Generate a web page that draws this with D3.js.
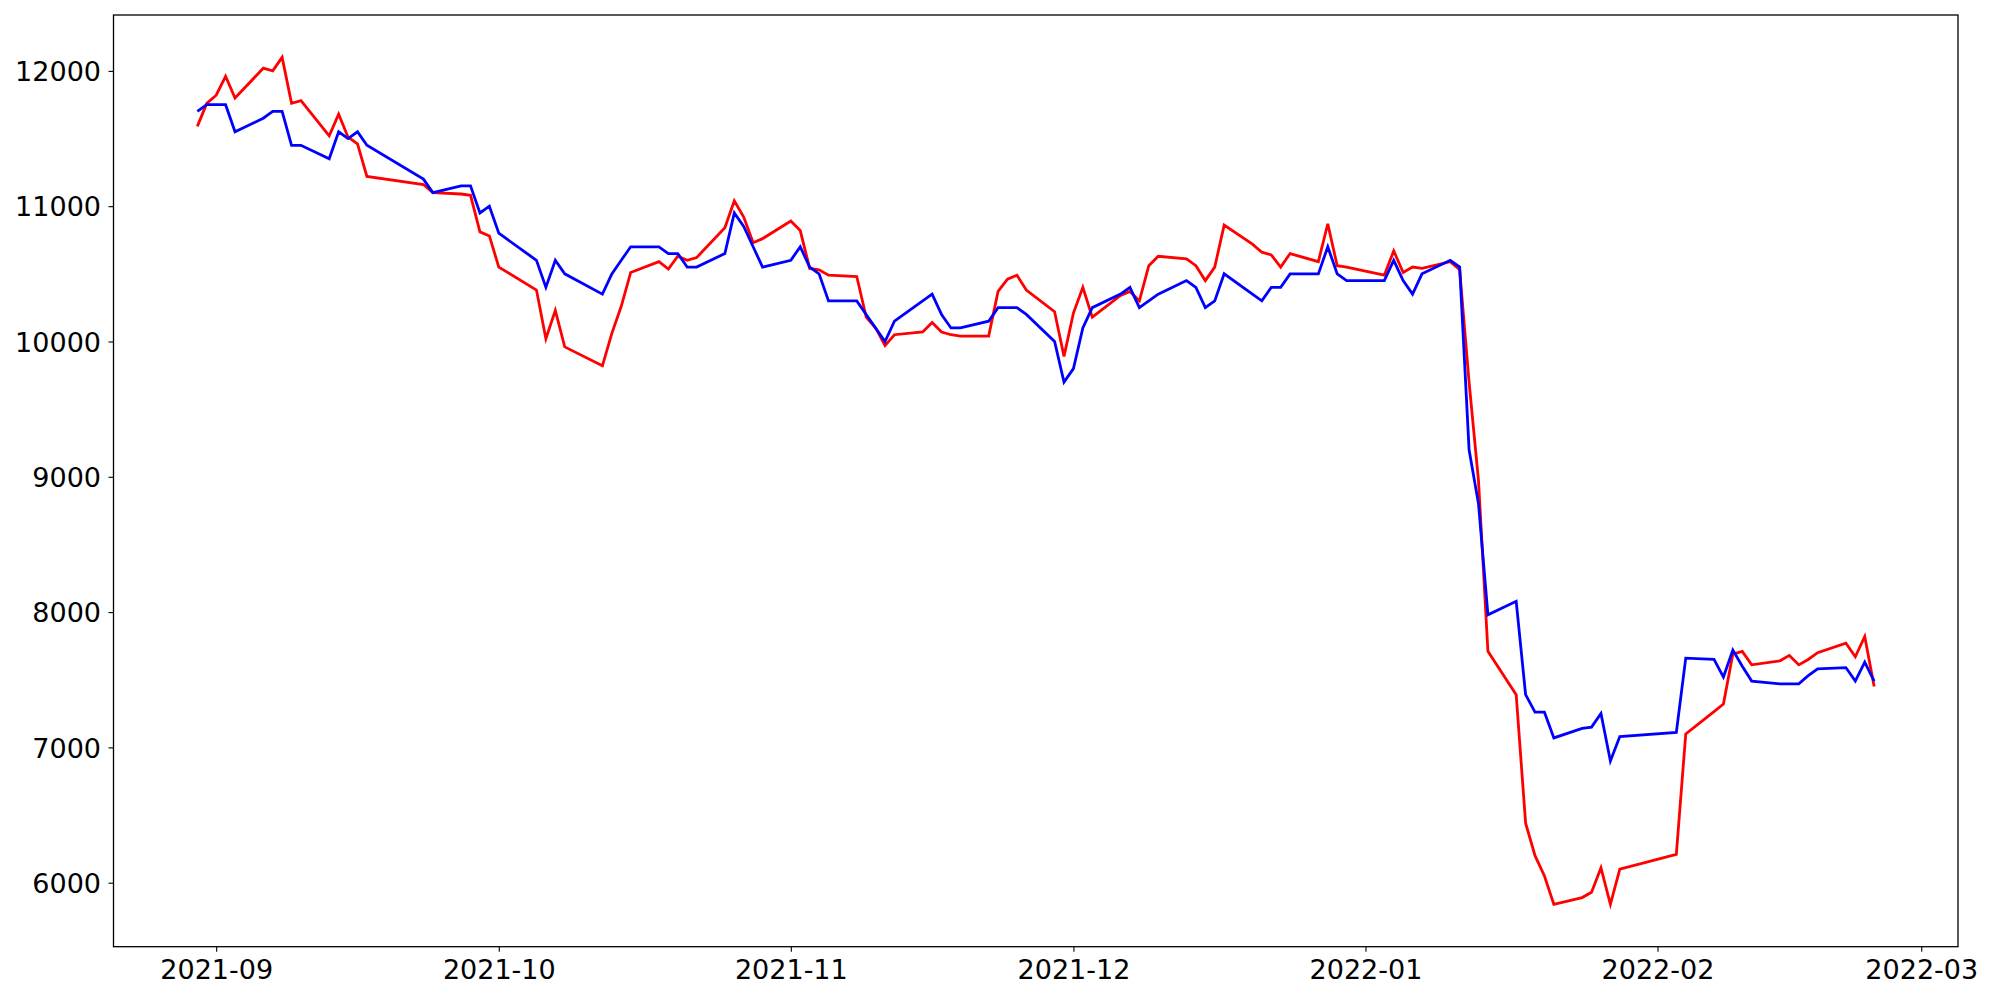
<!DOCTYPE html>
<html>
<head>
<meta charset="utf-8">
<script src="https://cdn.jsdelivr.net/npm/d3@7"></script>
<style>
  html, body { margin: 0; padding: 0; background: #ffffff; }
  svg { display: block; }
  text { font-family: "DejaVu Sans", sans-serif; }
</style>
</head>
<body>
<svg id="chart" width="2000" height="1000"></svg>
<script>
// Trading days (KRX)
const dates = [
  "2021-08-30","2021-08-31","2021-09-01","2021-09-02","2021-09-03",
  "2021-09-06","2021-09-07","2021-09-08","2021-09-09","2021-09-10",
  "2021-09-13","2021-09-14","2021-09-15","2021-09-16","2021-09-17",
  "2021-09-23","2021-09-24","2021-09-27","2021-09-28","2021-09-29","2021-09-30",
  "2021-10-01","2021-10-05","2021-10-06","2021-10-07","2021-10-08",
  "2021-10-12","2021-10-13","2021-10-14","2021-10-15",
  "2021-10-18","2021-10-19","2021-10-20","2021-10-21","2021-10-22",
  "2021-10-25","2021-10-26","2021-10-27","2021-10-28","2021-10-29",
  "2021-11-01","2021-11-02","2021-11-03","2021-11-04","2021-11-05",
  "2021-11-08","2021-11-09","2021-11-10","2021-11-11","2021-11-12",
  "2021-11-15","2021-11-16","2021-11-17","2021-11-18","2021-11-19",
  "2021-11-22","2021-11-23","2021-11-24","2021-11-25","2021-11-26",
  "2021-11-29","2021-11-30","2021-12-01","2021-12-02","2021-12-03",
  "2021-12-06","2021-12-07","2021-12-08","2021-12-09","2021-12-10",
  "2021-12-13","2021-12-14","2021-12-15","2021-12-16","2021-12-17",
  "2021-12-20","2021-12-21","2021-12-22","2021-12-23","2021-12-24",
  "2021-12-27","2021-12-28","2021-12-29","2021-12-30",
  "2022-01-03","2022-01-04","2022-01-05","2022-01-06","2022-01-07",
  "2022-01-10","2022-01-11","2022-01-12","2022-01-13","2022-01-14",
  "2022-01-17","2022-01-18","2022-01-19","2022-01-20","2022-01-21",
  "2022-01-24","2022-01-25","2022-01-26","2022-01-27","2022-01-28",
  "2022-02-03","2022-02-04",
  "2022-02-07","2022-02-08","2022-02-09","2022-02-10","2022-02-11",
  "2022-02-14","2022-02-15","2022-02-16","2022-02-17","2022-02-18",
  "2022-02-21","2022-02-22","2022-02-23","2022-02-24"
];

// Red series
const redValues = [
  11590,11760,11820,11960,11800,
  12020,12000,12100,11760,11780,
  11520,11680,11510,11460,11220,
  11160,11100,11090,11080,10810,10780,
  10550,10380,10020,10230,9960,
  9820,10060,10260,10510,
  10590,10535,10630,10600,10620,
  10840,11040,10920,10730,10760,
  10890,10820,10540,10530,10490,
  10480,10180,10100,9970,10050,
  10070,10140,10070,10050,10040,
  10040,10370,10460,10490,10380,
  10220,9890,10210,10400,10180,
  10340,10370,10300,10560,10630,
  10610,10560,10450,10550,10860,
  10720,10660,10640,10550,10650,
  10590,10870,10560,10550,
  10490,10670,10510,10550,10540,
  10590,10530,9700,8970,7710,
  7390,6440,6200,6050,5840,
  5890,5930,6110,5840,6100,
  6210,7100,
  7265,7320,7690,7710,7610,
  7640,7680,7610,7650,7700,
  7770,7670,7820,7450
];

// Blue series
const blueValues = [
  11700,11750,11750,11750,11550,
  11650,11700,11700,11450,11450,
  11350,11550,11500,11550,11450,
  11200,11100,11150,11150,10950,11000,
  10800,10600,10400,10600,10500,
  10350,10500,10600,10700,
  10700,10650,10650,10550,10550,
  10650,10950,10850,10700,10550,
  10600,10700,10550,10500,10300,
  10300,10200,10100,10000,10150,
  10300,10350,10200,10100,10100,
  10150,10250,10250,10250,10200,
  10000,9700,9800,10100,10250,
  10350,10400,10250,10300,10350,
  10450,10400,10250,10300,10500,
  10350,10300,10400,10400,10500,
  10500,10700,10500,10450,
  10450,10600,10450,10350,10500,
  10600,10550,9200,8800,7980,
  8080,7390,7260,7260,7070,
  7140,7150,7250,6900,7080,
  7110,7660,
  7650,7520,7720,7600,7490,
  7470,7470,7470,7530,7580,
  7590,7490,7630,7490
];

const yTickValues = [6000, 7000, 8000, 9000, 10000, 11000, 12000];
const xTickLabels = ["2021-09","2021-10","2021-11","2021-12","2022-01","2022-02","2022-03"];

const parse = d3.timeParse("%Y-%m-%d");
const parseMonth = d3.timeParse("%Y-%m");
const dateObjs = dates.map(parse);
const redData = dateObjs.map((d, i) => ({ date: d, value: redValues[i] }));
const blueData = dateObjs.map((d, i) => ({ date: d, value: blueValues[i] }));

const plotLeft = 113.5, plotRight = 1958, plotTop = 15, plotBottom = 946.7;

const tExt = d3.extent(dateObjs).map(d => +d);
const tPad = (tExt[1] - tExt[0]) * 0.05;
const x = d3.scaleTime()
  .domain([new Date(tExt[0] - tPad), new Date(tExt[1] + tPad)])
  .range([plotLeft, plotRight]);

const allVals = redValues.concat(blueValues);
const vMin = d3.min(allVals), vMax = d3.max(allVals);
const vPad = (vMax - vMin) * 0.05;
const y = d3.scaleLinear()
  .domain([vMin - vPad, vMax + vPad])
  .range([plotBottom, plotTop]);

const svg = d3.select("#chart");
svg.append("rect").attr("width", 2000).attr("height", 1000).attr("fill", "#ffffff");

const line = d3.line().x(d => x(d.date)).y(d => y(d.value));

svg.append("path").datum(redData)
  .attr("d", line).attr("fill", "none")
  .attr("stroke", "#ff0000").attr("stroke-width", 2.8)
  .attr("stroke-linejoin", "miter").attr("stroke-linecap", "butt");

svg.append("path").datum(blueData)
  .attr("d", line).attr("fill", "none")
  .attr("stroke", "#0000ff").attr("stroke-width", 2.8)
  .attr("stroke-linejoin", "miter").attr("stroke-linecap", "butt");

// Axes
const xAxis = d3.axisBottom(x)
  .tickValues(xTickLabels.map(parseMonth))
  .tickFormat(d3.timeFormat("%Y-%m"))
  .tickSize(5).tickSizeOuter(0);
const gx = svg.append("g").attr("transform", `translate(0,${plotBottom})`).call(xAxis);
gx.select(".domain").remove();
gx.selectAll(".tick line").attr("stroke", "#000").attr("stroke-width", 1.1);
gx.selectAll(".tick text")
  .attr("y", 13.4).attr("dy", "0.71em")
  .attr("fill", "#000")
  .style("font-family", "'DejaVu Sans', sans-serif")
  .style("font-size", "27px");

const yAxis = d3.axisLeft(y)
  .tickValues(yTickValues)
  .tickFormat(d3.format("d"))
  .tickSize(5).tickSizeOuter(0);
const gy = svg.append("g").attr("transform", `translate(${plotLeft},0)`).call(yAxis);
gy.select(".domain").remove();
gy.selectAll(".tick line").attr("stroke", "#000").attr("stroke-width", 1.1);
gy.selectAll(".tick text")
  .attr("x", -12.5).attr("dy", "0.36em")
  .attr("fill", "#000")
  .style("font-family", "'DejaVu Sans', sans-serif")
  .style("font-size", "27px");

// Frame
svg.append("rect")
  .attr("x", plotLeft).attr("y", plotTop)
  .attr("width", plotRight - plotLeft).attr("height", plotBottom - plotTop)
  .attr("fill", "none").attr("stroke", "#000").attr("stroke-width", 1.3);
</script>
</body>
</html>
